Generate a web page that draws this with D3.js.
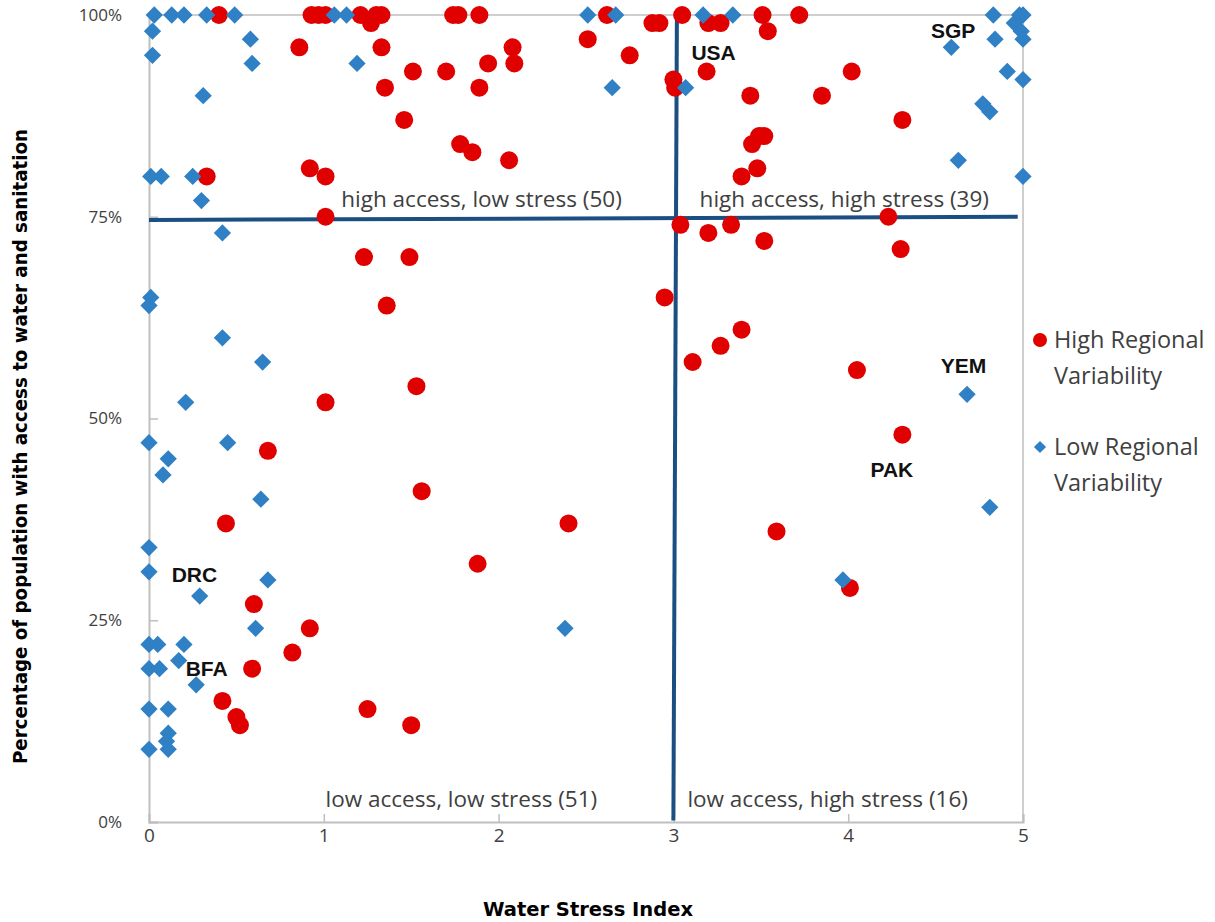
<!DOCTYPE html>
<html>
<head>
<meta charset="utf-8">
<script src="https://cdn.jsdelivr.net/npm/d3@7"></script>
<style>
  body { margin: 0; background: #fff; }
  svg { display: block; }
</style>
</head>
<body>
<div id="chart-area"></div>
<script>
// high regional variability (red circles): [water stress index, % access]
var highVar = [
  [0.40,100],[0.93,100],[0.97,100],[1.01,100],[1.21,100],[1.27,99],[1.30,100],[1.33,100],
  [1.74,100],[1.77,100],[1.89,100],[2.62,100],[2.88,99],[2.92,99],[3.05,100],[3.20,99],
  [3.27,99],[3.51,100],[3.72,100],[3.54,98],[2.51,97],[0.86,96],[1.33,96],[2.08,96],
  [1.51,93],[1.70,93],[1.94,94],[2.09,94],[1.35,91],[1.89,91],[2.75,95],[3.00,92],
  [3.01,91],[3.19,93],[4.02,93],[3.44,90],[3.85,90],[4.31,87],[1.46,87],[1.78,84],
  [1.85,83],[2.06,82],[0.92,81],[1.01,80],[0.33,80],[3.45,84],[3.49,85],[3.52,85],
  [3.48,81],[3.39,80],[1.01,75],[4.23,75],[3.04,74],[3.20,73],[3.33,74],[3.52,72],
  [4.30,71],[1.23,70],[1.49,70],[1.36,64],[2.95,65],[3.39,61],[3.27,59],[3.11,57],
  [4.05,56],[1.53,54],[1.01,52],[4.31,48],[0.68,46],[1.56,41],[0.44,37],[2.40,37],
  [3.59,36],[1.88,32],[4.01,29],[0.60,27],[0.92,24],[0.82,21],[0.59,19],[0.42,15],
  [0.50,13],[0.52,12],[1.25,14],[1.50,12]
];

// low regional variability (blue diamonds)
var lowVar = [
  [0.03,100],[0.13,100],[0.20,100],[0.33,100],[0.49,100],[1.06,100],[1.13,100],[2.51,100],
  [2.67,100],[3.17,100],[3.34,100],[4.83,100],[4.98,100],[5.00,100],[4.95,99],[4.99,98],
  [5.00,97],[4.84,97],[0.02,98],[0.02,95],[0.58,97],[0.59,94],[1.19,94],[0.31,90],
  [2.65,91],[3.07,91],[4.59,96],[4.91,93],[5.00,92],[4.77,89],[4.81,88],[4.63,82],
  [5.00,80],[0.01,80],[0.07,80],[0.25,80],[0.30,77],[0.42,73],[0.01,65],[0.00,64],
  [0.42,60],[0.65,57],[0.21,52],[4.68,53],[0.00,47],[0.45,47],[0.11,45],[0.08,43],
  [0.64,40],[4.81,39],[0.00,34],[0.00,31],[0.68,30],[3.97,30],[0.29,28],[0.61,24],
  [2.38,24],[0.00,22],[0.05,22],[0.20,22],[0.17,20],[0.00,19],[0.06,19],[0.27,17],
  [0.00,14],[0.11,14],[0.11,11],[0.10,10],[0.11,9],[0.00,9]
];

var xTicks = [0, 1, 2, 3, 4, 5];
var yTicks = [0, 25, 50, 75, 100];

// labelled countries
var countryLabels = [
  {name: "USA", x: 3.23, y: 94.4},
  {name: "SGP", x: 4.60, y: 97.2},
  {name: "YEM", x: 4.66, y: 55.6},
  {name: "PAK", x: 4.25, y: 42.8},
  {name: "DRC", x: 0.26, y: 29.7},
  {name: "BFA", x: 0.33, y: 18.1}
];

var quadrantLabels = [
  {text: "high access, low stress (50)", x: 1.10, y: 76.2},
  {text: "high access, high stress (39)", x: 3.15, y: 76.2},
  {text: "low access, low stress (51)", x: 1.01, y: 1.9},
  {text: "low access, high stress (16)", x: 3.08, y: 1.9}
];

var svg = d3.select("#chart-area")
  .append("svg")
    .attr("width", 1215)
    .attr("height", 922);

svg.append("rect").attr("width", 1215).attr("height", 922).attr("fill", "#fff");

var x = d3.scaleLinear().domain([0, 5]).range([149, 1023]);
var y = d3.scaleLinear().domain([0, 100]).range([822, 15]);

var gridColor = "#bfbfbf";
var textColor = "#404040";
var lineColor = "#1b4f82";

// top & right border
svg.append("line")
  .attr("x1", x(0)).attr("x2", x(5)).attr("y1", y(100)).attr("y2", y(100))
  .attr("stroke", gridColor).attr("stroke-width", 1.5);
svg.append("line")
  .attr("x1", x(5)).attr("x2", x(5)).attr("y1", y(100)).attr("y2", y(0))
  .attr("stroke", gridColor).attr("stroke-width", 1.5);

// Y axis
var yAxis = svg.append("g")
  .attr("transform", "translate(" + x(0) + ",0)")
  .call(d3.axisLeft(y).tickValues(yTicks).tickSize(-9).tickPadding(27)
    .tickFormat(function(d){ return d + "%"; }));

// X axis
var xAxis = svg.append("g")
  .attr("transform", "translate(0," + y(0) + ")")
  .call(d3.axisBottom(x).tickValues(xTicks).tickSize(-8).tickPadding(6)
    .tickFormat(d3.format("d")));

[yAxis, xAxis].forEach(function(ax){
  ax.select(".domain").attr("stroke", gridColor).attr("stroke-width", 2);
  ax.selectAll(".tick line").attr("stroke", gridColor).attr("stroke-width", 1.5);
  ax.selectAll(".tick text")
    .attr("fill", textColor)
    .attr("font-family", "'Open Sans', sans-serif")
    .attr("font-size", "17px");
});
xAxis.selectAll(".tick text").attr("font-size", "19px");

// axis titles
svg.append("text")
  .attr("transform", "translate(27," + ((y(0) + y(100)) / 2 + 28) + ") rotate(-90)")
  .attr("text-anchor", "middle")
  .attr("font-family", "'DejaVu Sans Condensed', 'DejaVu Sans', sans-serif")
  .attr("font-weight", "bold")
  .attr("font-size", "19px")
  .attr("textLength", 635)
  .attr("lengthAdjust", "spacingAndGlyphs")
  .attr("fill", "#000")
  .text("Percentage of population with access to water and sanitation");

svg.append("text")
  .attr("x", 588)
  .attr("y", 916)
  .attr("text-anchor", "middle")
  .attr("font-family", "'DejaVu Sans Condensed', 'DejaVu Sans', sans-serif")
  .attr("font-weight", "bold")
  .attr("font-size", "19px")
  .attr("textLength", 210)
  .attr("lengthAdjust", "spacingAndGlyphs")
  .attr("fill", "#000")
  .text("Water Stress Index");

// quadrant divider lines
svg.append("line")
  .attr("x1", x(0)).attr("y1", y(74.6))
  .attr("x2", x(4.97)).attr("y2", y(75))
  .attr("stroke", lineColor).attr("stroke-width", 4);
svg.append("line")
  .attr("x1", x(3.02)).attr("y1", y(100))
  .attr("x2", x(3.0)).attr("y2", y(0.2))
  .attr("stroke", lineColor).attr("stroke-width", 4);

// quadrant labels
svg.selectAll(".quad")
  .data(quadrantLabels)
  .enter().append("text")
    .attr("class", "quad")
    .attr("x", function(d){ return x(d.x); })
    .attr("y", function(d){ return y(d.y); })
    .attr("font-family", "'Open Sans', sans-serif")
    .attr("font-size", "22.5px")
    .attr("fill", textColor)
    .text(function(d){ return d.text; });

// high variability points
svg.selectAll(".high")
  .data(highVar)
  .enter().append("circle")
    .attr("class", "high")
    .attr("cx", function(d){ return x(d[0]); })
    .attr("cy", function(d){ return y(d[1]); })
    .attr("r", 9)
    .attr("fill", "#e00000");

// low variability points
var diamond = d3.symbol().type(d3.symbolDiamond2).size(190);
svg.selectAll(".low")
  .data(lowVar)
  .enter().append("path")
    .attr("class", "low")
    .attr("d", diamond)
    .attr("transform", function(d){ return "translate(" + x(d[0]) + "," + y(d[1]) + ")"; })
    .attr("fill", "#2f80c4");

// country labels
svg.selectAll(".country")
  .data(countryLabels)
  .enter().append("text")
    .attr("class", "country")
    .attr("x", function(d){ return x(d.x); })
    .attr("y", function(d){ return y(d.y); })
    .attr("text-anchor", "middle")
    .attr("font-family", "'Liberation Sans', Arial, sans-serif")
    .attr("font-weight", "bold")
    .attr("font-size", "21px")
    .attr("fill", "#111")
    .text(function(d){ return d.name; });

// legend
var legend = svg.append("g").attr("transform", "translate(1040,0)");
var legendItems = [
  {lines: ["High Regional", "Variability"], y: 340, type: "high"},
  {lines: ["Low Regional", "Variability"], y: 447, type: "low"}
];
legendItems.forEach(function(item){
  var row = legend.append("g").attr("transform", "translate(0," + item.y + ")");
  if (item.type == "high") {
    row.append("circle").attr("r", 7).attr("fill", "#e00000");
  } else {
    row.append("path")
      .attr("d", d3.symbol().type(d3.symbolDiamond2).size(95))
      .attr("fill", "#2f80c4");
  }
  item.lines.forEach(function(line, i){
    row.append("text")
      .attr("x", 14)
      .attr("y", i * 36 + 8)
      .attr("font-family", "'Open Sans', sans-serif")
      .attr("font-size", "23.5px")
      .attr("fill", textColor)
      .text(line);
  });
});
</script>
</body>
</html>
